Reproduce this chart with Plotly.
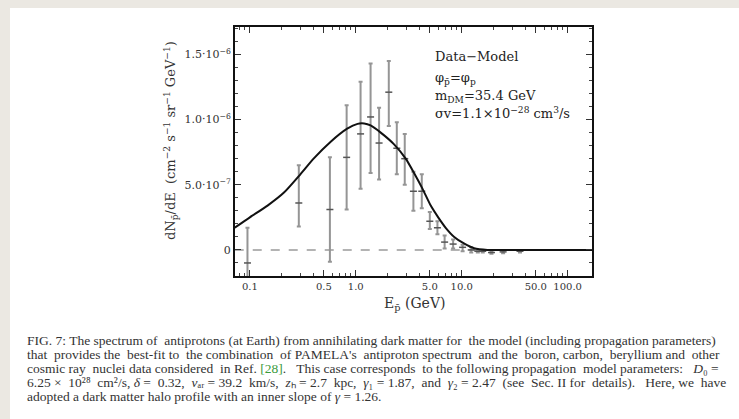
import plotly.graph_objects as go

# ---------------- data ----------------
curve_E = [0.072, 0.1, 0.147, 0.21, 0.30, 0.40, 0.58, 0.83, 1.04, 1.2, 1.38, 1.72, 2.30, 2.96,
           3.55, 4.26, 5.1, 6.0, 7.06, 8.5, 10.5, 13.1, 17.5, 30.0, 60.0, 170.0]
curve_flux = [0.17, 0.25, 0.34, 0.44, 0.58, 0.70, 0.83, 0.93, 0.967, 0.97, 0.955, 0.90, 0.81, 0.70,
              0.59, 0.47, 0.34, 0.25, 0.17, 0.10, 0.05, 0.013, 0.0, 0.0, 0.0, 0.0]  # x 1e-6

data_E = [0.095, 0.29, 0.57, 0.82, 1.11, 1.38, 1.66, 2.05, 2.44, 2.9, 3.5, 4.2, 5.0, 5.9,
          6.9, 8.3, 10.2, 12.3, 14.2, 15.8, 19.1, 24.6, 35.5]
data_flux = [-0.10, 0.36, 0.31, 0.71, 0.89, 1.02, 0.82, 1.21, 0.78, 0.70, 0.45, 0.45, 0.22, 0.17,
             0.06, 0.045, 0.02, 0.0, -0.01, -0.01, -0.02, -0.015, -0.01]  # x 1e-6
data_err_hi = [0.27, 0.29, 0.40, 0.40, 0.40, 0.41, 0.27, 0.24, 0.20, 0.19, 0.15, 0.13, 0.07, 0.05,
               0.05, 0.035, 0.02, 0.02, 0.01, 0.01, 0.01, 0.01, 0.01]
data_err_lo = [0.40, 0.18, 0.40, 0.40, 0.42, 0.43, 0.28, 0.26, 0.20, 0.20, 0.15, 0.13, 0.06, 0.05,
               0.05, 0.035, 0.03, 0.02, 0.01, 0.01, 0.01, 0.01, 0.01]

x_tick_vals = [0.1, 0.5, 1.0, 5.0, 10.0, 50.0, 100.0]
x_tick_text = ["0.1", "0.5", "1.0", "5.0", "10.0", "50.0", "100.0"]
x_minor_vals = [0.08, 0.09, 0.2, 0.3, 0.4, 0.6, 0.7, 0.8, 0.9, 2, 3, 4, 6, 7, 8, 9,
                20, 30, 40, 60, 70, 80, 90, 200]
y_tick_vals = [0.0, 5e-7, 1e-6, 1.5e-6]
y_tick_text = ["0", "5.0·10<sup>−7</sup>", "1.0·10<sup>−6</sup>", "1.5·10<sup>−6</sup>"]

caption_lines = [
    "FIG. 7: The spectrum of antiprotons (at Earth) from annihilating dark matter for the model (including propagation parameters)",
    "that provides the best-fit to the combination of PAMELA's antiproton spectrum and the boron, carbon, beryllium and other",
    "cosmic ray nuclei data considered in Ref. <span|style='color:#3a9a3a'>[28]</span>.  This case corresponds to the following propagation model parameters:  <i>D</i>₀ =",
    "6.25 × 10²⁸ cm²/s, <i>δ</i> = 0.32, <i>v</i>ₐᵣ = 39.2 km/s, <i>z</i>ₕ = 2.7 kpc, <i>γ</i>₁ = 1.87, and <i>γ</i>₂ = 2.47 (see Sec. II for details).  Here, we have",
    "adopted a dark matter halo profile with an inner slope of <i>γ</i> = 1.26.",
]
caption_extra_spaces = [2, 9, 6, 15, 0]   # widening to imitate the justified lines
label_lines = [
    "Data−Model",
    "φ<sub>p̄</sub>=φ<sub>p</sub>",
    "m<sub>DM</sub>=35.4 GeV",
    "σv=1.1×10<sup>−28</sup> cm<sup>3</sup>/s",
]

# ---------------- layout geometry ----------------
W, H = 739, 419
L, R, T, B = 235, 592, 27, 276


def px(xp):
    return (xp - L) / (R - L)


def py(yp):
    return (B - yp) / (B - T)


def widen(line, n):
    words = line.split(" ")
    gaps = len(words) - 1
    out = words[0]
    added = 0
    for i in range(1, len(words)):
        target = round(i * n / gaps) if gaps else 0
        extra = target - added
        added = target
        out += " " + "\u00a0" * extra + words[i]
    return out.replace("<span|style", "<span style")


fig = go.Figure()

# dashed zero line
fig.add_trace(go.Scatter(x=[0.072, 170], y=[0, 0], mode="lines",
                         line=dict(color="#9a9a9a", width=1.5, dash="dash"),
                         hoverinfo="skip", showlegend=False))

# data points with error bars
fig.add_trace(go.Scatter(
    x=data_E, y=[v * 1e-6 for v in data_flux], mode="markers",
    marker=dict(symbol="line-ew", size=5, line=dict(color="#555555", width=1.5)),
    error_y=dict(type="data", symmetric=False,
                 array=[v * 1e-6 for v in data_err_hi],
                 arrayminus=[v * 1e-6 for v in data_err_lo],
                 color="#959595", thickness=2, width=2),
    showlegend=False, cliponaxis=True))

# model curve
fig.add_trace(go.Scatter(x=curve_E, y=[v * 1e-6 for v in curve_flux], mode="lines",
                         line=dict(color="#111111", width=2, shape="spline", smoothing=0.6),
                         showlegend=False))

axis_common = dict(showline=True, linewidth=2, linecolor="#111111", mirror="ticks",
                   ticks="inside", ticklen=6, tickwidth=1, tickcolor="#333333",
                   showgrid=False, zeroline=False)

fig.update_xaxes(type="log", range=[-1.14, 2.23], tickmode="array",
                 tickvals=x_tick_vals, ticktext=x_tick_text,
                 tickfont=dict(family="DejaVu Serif", size=10, color="#333333"),
                 minor=dict(ticks="inside", ticklen=3, tickcolor="#444444",
                            tickmode="array", tickvals=x_minor_vals),
                 **axis_common)
fig.update_yaxes(range=[-2.0e-7, 1.71e-6], tickmode="array",
                 tickvals=y_tick_vals, ticktext=y_tick_text,
                 tickfont=dict(family="DejaVu Serif", size=11, color="#333333"),
                 minor=dict(ticks="inside", ticklen=3, tickcolor="#444444", dtick=1e-7),
                 **axis_common)

annotations = []
label_y = [56, 78, 96, 113]
for txt, yy in zip(label_lines, label_y):
    annotations.append(dict(text=txt, x=px(433), y=py(yy), xref="paper", yref="paper",
                            xanchor="left", yanchor="middle", showarrow=False,
                            font=dict(family="DejaVu Serif", size=13, color="#222222")))

annotations.append(dict(text="E<sub>p̄</sub> (GeV)", x=px(414), y=py(304),
                        xref="paper", yref="paper", xanchor="center", yanchor="middle",
                        showarrow=False,
                        font=dict(family="DejaVu Serif", size=14, color="#333333")))
annotations.append(dict(text="dN<sub>p̄</sub>/dE  (cm<sup>−2</sup> s<sup>−1</sup> sr<sup>−1</sup> GeV<sup>−1</sup>)",
                        x=px(171), y=py(141), xref="paper", yref="paper",
                        xanchor="center", yanchor="middle", textangle=-90, showarrow=False,
                        font=dict(family="DejaVu Serif", size=13, color="#333333")))

cap_y = [340, 354, 368, 382, 396]
for txt, n, yy in zip(caption_lines, caption_extra_spaces, cap_y):
    annotations.append(dict(text=widen(txt, n), x=px(25), y=py(yy), xref="paper", yref="paper",
                            xanchor="left", yanchor="middle", showarrow=False,
                            font=dict(family="Liberation Serif", size=13.5, color="#333333")))

fig.update_layout(
    width=W, height=H,
    margin=dict(l=L, r=W - R, t=T, b=H - B, pad=0),
    paper_bgcolor="#ebe8e2", plot_bgcolor="white",
    annotations=annotations,
    shapes=[dict(type="rect", xref="paper", yref="paper",
                 x0=px(10), x1=px(739), y0=py(419), y1=py(8),
                 fillcolor="white", line=dict(width=0), layer="below")],
    showlegend=False,
)

fig.write_html("out.html")
